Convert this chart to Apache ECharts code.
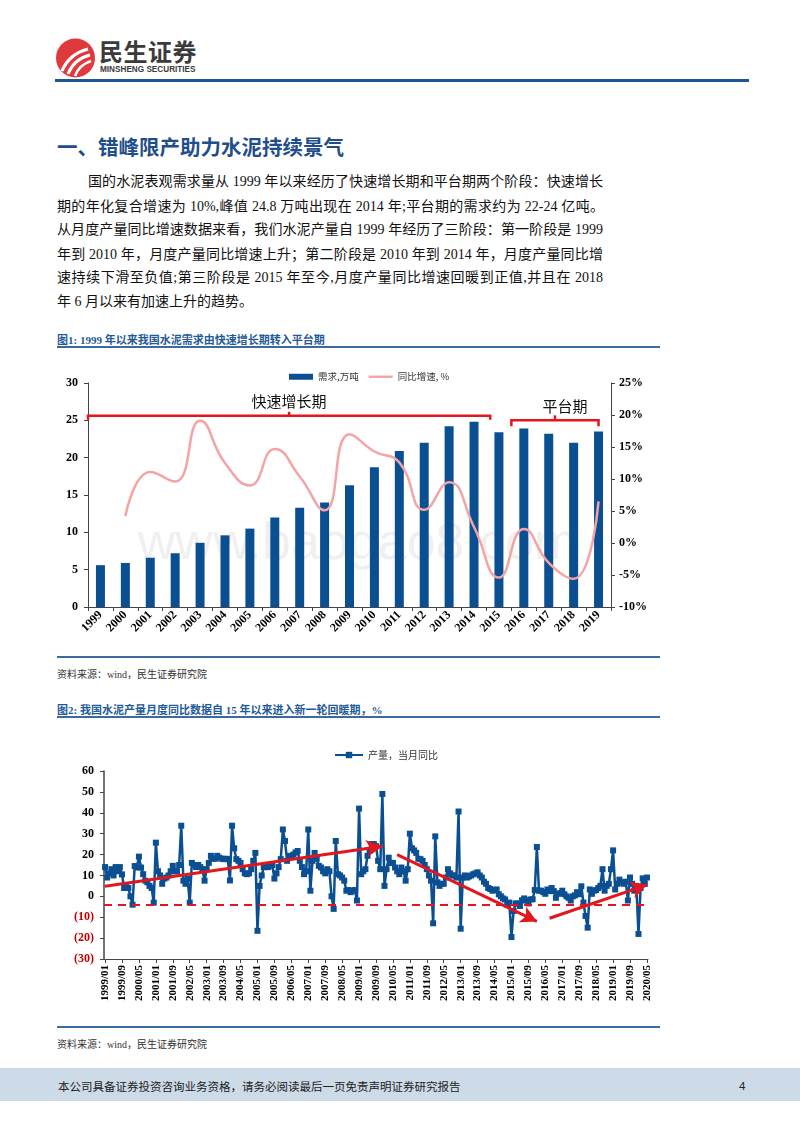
<!DOCTYPE html>
<html><head><meta charset="utf-8">
<script src="https://cdn.jsdelivr.net/npm/echarts/dist/echarts.min.js"></script>
<style>
html,body{margin:0;padding:0;background:#fff;}
body{width:800px;height:1132px;position:relative;overflow:hidden;font-family:"Liberation Serif","Noto Sans CJK SC",serif;}
.abs{position:absolute;}
.para{position:absolute;font-size:14px;color:#111;white-space:nowrap;text-align:justify;text-align-last:justify;line-height:18px;}
.cap{position:absolute;left:57px;font-size:11px;font-weight:bold;color:#1f5a99;white-space:nowrap;font-family:"Liberation Serif","Noto Sans CJK SC",serif;}
.rule{position:absolute;left:57px;width:603px;height:2px;background:#3a6b9c;}
.src{position:absolute;left:57px;font-size:10px;color:#333;white-space:nowrap;}
</style>
</head><body>
<svg class="abs" style="left:55px;top:38px" width="42" height="42" viewBox="0 0 42 42">
  <ellipse cx="20.5" cy="20" rx="19.5" ry="19.5" fill="#e0393d"/>
  <path d="M7 33 Q14 16 33 11" stroke="#fff" stroke-width="3.2" fill="none"/>
  <path d="M13 36 Q19 21 35 17" stroke="#fff" stroke-width="3" fill="none"/>
  <path d="M20 38 Q24 27 36 23" stroke="#fff" stroke-width="2.6" fill="none"/>
</svg>
<div class="abs" style="left:99px;top:37px;font-family:'Noto Sans CJK SC';font-weight:bold;font-size:24px;color:#3b3b3b;letter-spacing:0.5px;line-height:28px;">民生证券</div>
<div class="abs" style="left:100px;top:65px;font-family:'Liberation Sans','DejaVu Sans';font-weight:bold;font-size:8.2px;color:#3b3b3b;line-height:10px;white-space:nowrap;">MINSHENG SECURITIES</div>
<div class="abs" style="left:55px;top:79px;width:694px;height:3px;background:#1f5796;"></div>

<div class="abs" style="left:57px;top:133px;font-family:'Noto Sans CJK SC';font-weight:bold;font-size:20.5px;color:#1f4e8a;white-space:nowrap;line-height:26px;">一、错峰限产助力水泥持续景气</div>

<div class="para" style="left:88px;width:515px;top:173px;">国的水泥表观需求量从 1999 年以来经历了快速增长期和平台期两个阶段：快速增长</div>
<div class="para" style="left:57px;width:547px;top:198px;">期的年化复合增速为 10%,峰值 24.8 万吨出现在 2014 年;平台期的需求约为 22-24 亿吨。</div>
<div class="para" style="left:57px;width:546px;top:221px;">从月度产量同比增速数据来看，我们水泥产量自 1999 年经历了三阶段：第一阶段是 1999</div>
<div class="para" style="left:57px;width:546px;top:246px;">年到 2010 年，月度产量同比增速上升；第二阶段是 2010 年到 2014 年，月度产量同比增</div>
<div class="para" style="left:57px;width:546px;top:269px;">速持续下滑至负值;第三阶段是 2015 年至今,月度产量同比增速回暖到正值,并且在 2018</div>
<div class="para" style="left:57px;top:293px;text-align:left;text-align-last:left;">年 6 月以来有加速上升的趋势。</div>

<div class="cap" style="top:331px;">图1: 1999 年以来我国水泥需求由快速增长期转入平台期</div>
<div class="rule" style="top:346px;"></div>

<div id="c1" class="abs" style="left:40px;top:360px;width:640px;height:290px;"></div>

<div class="rule" style="top:656px;"></div>
<div class="src" style="top:666px;">资料来源：wind，民生证券研究院</div>

<div class="cap" style="top:701px;">图2: 我国水泥产量月度同比数据自 15 年以来进入新一轮回暖期，%</div>
<div class="rule" style="top:716px;"></div>

<div id="c2" class="abs" style="left:40px;top:735px;width:640px;height:285px;"></div>

<div class="rule" style="top:1026px;"></div>
<div class="src" style="top:1036px;">资料来源：wind，民生证券研究院</div>

<div class="abs" style="left:0;top:1068px;width:800px;height:33px;background:#cddae7;"></div>
<div class="abs" style="left:58px;top:1078px;font-family:'Noto Sans CJK SC';font-size:11.5px;color:#222;white-space:nowrap;line-height:16px;">本公司具备证券投资咨询业务资格，请务必阅读最后一页免责声明证券研究报告</div>
<div class="abs" style="left:739px;top:1078px;font-family:'Liberation Sans';font-size:11.5px;color:#222;line-height:16px;">4</div>

<script>
// ---------- Figure 1 data ----------
const years = ['1999','2000','2001','2002','2003','2004','2005','2006','2007','2008','2009','2010','2011','2012','2013','2014','2015','2016','2017','2018','2019'];
const demand = [5.6,5.9,6.6,7.2,8.6,9.6,10.5,12.0,13.3,14.0,16.3,18.7,20.9,22.0,24.2,24.8,23.4,23.9,23.2,22.0,23.5];
const growth = [null,4.2,11.1,9.6,19.1,12.5,9.0,14.7,10.4,5.1,17.0,14.3,12.6,5.2,9.5,2.5,-5.4,2.2,-3.1,-5.6,6.5];
const leftTicks = {min:0,max:30,interval:5};
const rightTicks = {min:-10,max:25,interval:5};

// ---------- Figure 2 data ----------
const prod1999 = [14,9,11,13,10,14,12,14,10.5,4,5,4];
const prod2000 = [0,-4,14.5,13.8,19,13.8,10.6,7.5,6.7,5,4,-3];
const prod2001 = [25.7,12,10,6,8.5,9,10,12,14.6,12,12,15];
const prod2002 = [33.8,7.5,6,8.5,-3,16,15,14,15,14,13,7.5];
const prod2003 = [13,16,19.4,18,18,19.4,18.5,18,17.8,18,17.8,7.6];
const prod2004 = [33.8,23,17.8,17,16,13,11,10.6,11,13,17,20.8];
const prod2005 = [-16.5,5,10,14,14,14,14.6,15,8.5,11,14,17.8];
const prod2006 = [32,26.5,17,19.4,19,20,21,21.7,17,14,10.6,12];
const prod2007 = [32,2.7,17,20.8,18,14.6,13.8,12,11,13,12,0];
const prod2008 = [-6,26.5,10.6,10,9,7.5,2.7,3,2,2.7,3,-2];
const prod2009 = [42,10.6,12,13,19.4,22,25,25,24,17,13,49];
const prod2010 = [5,13,18.5,16,16,13.8,12,10.6,13.8,12,7.5,13];
const prod2011 = [30,23,22,20.8,18,17.8,17,15,13,10,7.5,-12.9];
const prod2012 = [28.7,6.7,5,6,6,9,13,11,10,10,9,40.6];
const prod2013 = [-15.5,9,10,9,9.5,10,10.6,11,11.5,10,9,7];
const prod2014 = [6,4,3.5,2.7,3,3.3,1,0,-1,-1.5,-4,-3];
const prod2015 = [-19.5,-7,-3.4,-3.4,-4.6,-1.9,-1,-2,-3.4,-1.5,-1.4,3];
const prod2016 = [23.6,2.7,2.7,2,1.2,3.3,2.5,4,2.5,-0.7,1.2,1.5];
const prod2017 = [2.7,1,0,-0.7,-2,0,0.5,2,1,4.8,-3,-9.4];
const prod2018 = [-15,3.3,1.2,2.7,3,4,5,13,2.7,5,6,13];
const prod2019 = [22,3.3,6,8,6.7,6,7,-2,9,6,2.7,5];
const prod2020 = [-18,4,8.6,6,9];
const production = [].concat(prod1999,prod2000,prod2001,prod2002,prod2003,prod2004,prod2005,prod2006,prod2007,prod2008,prod2009,prod2010,prod2011,prod2012,prod2013,prod2014,prod2015,prod2016,prod2017,prod2018,prod2019,prod2020);
const months = [];
for (let y = 1999; y <= 2020; y++) { for (let m = 1; m <= 12; m++) { if (y === 2020 && m > 5) break; months.push(y + '/' + (m < 10 ? '0' + m : m)); } }
const prodTicks = {min:-30,max:60,interval:10};
const baseline = -3.8;
const trendArrows = [
  [['1999/01',4.8],['2009/12',24]],
  [['2010/07',20],['2016/01',-12]],
  [['2016/07',-10.5],['2020/05',5.5]]
];

const serif = '"Liberation Serif","Times New Roman","Noto Sans CJK SC",serif';
const cjk = '"Noto Sans CJK SC",sans-serif';

// ---------- Chart 1 ----------
const c1 = echarts.init(document.getElementById('c1'));
c1.setOption({
  animation:false,
  grid:{left:48,right:69,top:23,bottom:43},
  legend:{top:7,left:244,itemWidth:24,itemHeight:6,itemGap:10,
    textStyle:{fontSize:9.5,color:'#333',fontFamily:cjk},
    data:[{name:'需求,万吨',icon:'rect'},{name:'同比增速, %',icon:'path://M0 0H10V1H0Z'}]},
  xAxis:{type:'category',data:years,
    axisLine:{lineStyle:{color:'#444',width:1}},
    axisTick:{show:true,length:4,lineStyle:{color:'#444'}},
    axisLabel:{rotate:45,margin:6,fontFamily:serif,fontWeight:'bold',fontSize:12,color:'#000',interval:0}},
  yAxis:[
    {type:'value',min:leftTicks.min,max:leftTicks.max,interval:leftTicks.interval,
      axisLine:{show:true,lineStyle:{color:'#444'}},axisTick:{show:true,length:4},
      splitLine:{show:false},
      axisLabel:{fontFamily:serif,fontWeight:'bold',fontSize:12,color:'#000',margin:10}},
    {type:'value',min:rightTicks.min,max:rightTicks.max,interval:rightTicks.interval,position:'right',
      axisLine:{show:true,lineStyle:{color:'#444'}},axisTick:{show:true,length:4},
      splitLine:{show:false},
      axisLabel:{formatter:'{value}%',fontFamily:serif,fontWeight:'bold',fontSize:12,color:'#000',margin:8}}
  ],
  series:[
    {name:'需求,万吨',type:'bar',data:demand,barWidth:9,itemStyle:{color:'#0b4f93'}},
    {name:'同比增速, %',type:'line',yAxisIndex:1,data:growth,smooth:0.5,symbol:'none',
      lineStyle:{color:'#f4a4a4',width:2.5},itemStyle:{color:'#f4a4a4'}}
  ]
});
(function(){
  const px = (cat,v)=>c1.convertToPixel({gridIndex:0},[cat,v]);
  const band = px('2000',0)[0]-px('1999',0)[0];
  const red = '#e3161d';
  const g = [];
  const wc = px('2009',8.3);
  g.push({type:'text',x:wc[0]+8,y:wc[1],z:0,style:{text:'www.baogao8.com',font:'52px "Liberation Sans",Arial',fill:'rgba(170,170,170,0.18)',textAlign:'center',textVerticalAlign:'middle'}});
  function bracket(xL,xR,yv,drop,up,label,dx,dy){
    const y = px('1999',yv)[1];
    const xc = (xL+xR)/2;
    g.push({type:'polyline',z:10,shape:{points:[[xL,y+drop],[xL,y],[xR,y],[xR,y+drop]]},style:{stroke:red,lineWidth:2.5,fill:null}});
    g.push({type:'line',z:10,shape:{x1:xc,y1:y,x2:xc,y2:y-up},style:{stroke:red,lineWidth:2.5}});
    g.push({type:'text',z:10,x:xc+dx,y:y+dy,style:{text:label,font:'15px "Noto Sans CJK SC"',fill:'#111',textAlign:'center',textVerticalAlign:'middle'}});
  }
  bracket(px('1999',0)[0]-band/2, px('2014',0)[0]+0.65*band, 25.6, 4, 4, '快速增长期', 0, -15);
  bracket(px('2015',0)[0]+0.5*band, px('2019',0)[0], 25.0, 6, 5, '平台期', 10, -14);
  c1.setOption({graphic:g});
})();

// ---------- Chart 2 ----------
const c2 = echarts.init(document.getElementById('c2'));
const arrowData = trendArrows.map(a=>[{coord:a[0]},{coord:a[1]}]);
c2.setOption({
  animation:false,
  grid:{left:64,right:32,top:36,bottom:61},
  legend:{top:10,left:289,itemWidth:28,itemHeight:8,
    textStyle:{fontSize:10,color:'#333',fontFamily:cjk},data:['产量，当月同比']},
  xAxis:{type:'category',data:months,boundaryGap:true,
    axisLine:{onZero:false,lineStyle:{color:'#444',width:1}},
    axisTick:{show:true,interval:7,alignWithLabel:true,length:4,lineStyle:{color:'#444'}},
    axisLabel:{interval:7,rotate:90,margin:6,fontFamily:serif,fontWeight:'bold',fontSize:11,color:'#000'}},
  yAxis:{type:'value',min:prodTicks.min,max:prodTicks.max,interval:prodTicks.interval,
    axisLine:{show:true,lineStyle:{color:'#444',width:1.5}},axisTick:{show:true,length:4},
    splitLine:{show:false},
    axisLabel:{fontFamily:serif,fontWeight:'bold',fontSize:12,margin:10,
      formatter:v=>(v<0?'('+(-v)+')':String(v)),
      color:v=>(Number(v)<0?'#c00000':'#000')}},
  series:[
    {name:'基准',type:'line',data:[],silent:true,
      markLine:{silent:true,symbol:['none','none'],label:{show:false},
        lineStyle:{type:[8,6],width:2,color:'#e3161d'},data:[{yAxis:baseline}]}},
    {name:'产量，当月同比',type:'line',data:production,symbol:'rect',symbolSize:6,showAllSymbol:true,
      lineStyle:{color:'#0b4f93',width:2.5},itemStyle:{color:'#0b4f93'},
      markLine:{silent:true,symbol:['none','arrow'],symbolSize:[13,16],label:{show:false},
        lineStyle:{type:'solid',width:3,color:'#e3161d'},data:arrowData}}
  ]
});
</script>
</body></html>
